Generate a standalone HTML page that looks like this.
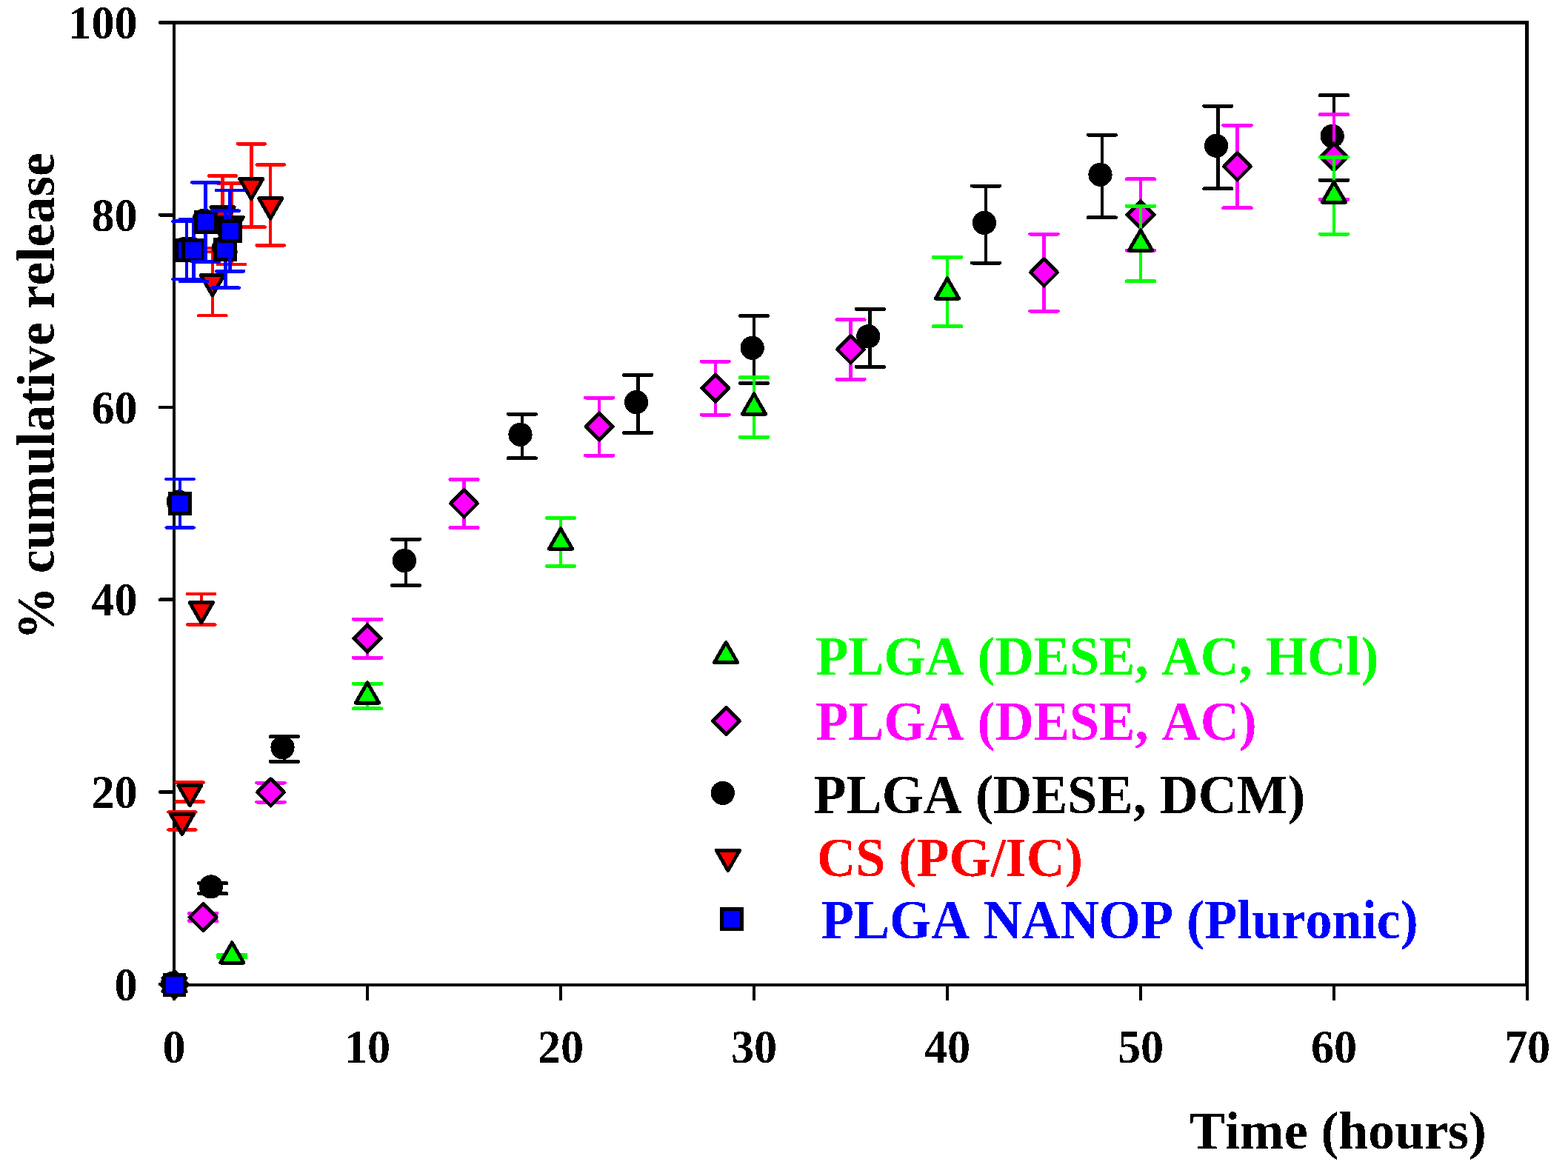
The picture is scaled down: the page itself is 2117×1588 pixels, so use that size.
<!DOCTYPE html>
<html lang="en"><head><meta charset="utf-8"><title>% cumulative release vs Time (hours)</title>
<style>html,body{margin:0;padding:0;background:#fff;}body{width:2117px;height:1588px;}svg{display:block;font-kerning:none;shape-rendering:crispEdges;}</style></head><body>
<svg width="2117" height="1588" viewBox="0 0 2117 1588" role="img" aria-label="Cumulative release versus time scatter plot">
<rect width="2117" height="1588" fill="#fff"/>
<defs><filter id="bw" x="-10%" y="-30%" width="120%" height="160%" color-interpolation-filters="sRGB"><feComponentTransfer><feFuncA type="discrete" tableValues="0 1"/></feComponentTransfer></filter></defs>
<g stroke="#000" fill="none" stroke-linecap="round">
<path stroke-width="4.9" stroke-linecap="butt" d="M232.9 30.5H2064.2"/>
<path stroke-width="4.4" stroke-linecap="butt" d="M232.9 1330.0H2064.2"/>
<path stroke-width="4.3" stroke-linecap="butt" d="M235.0 30.5V1330.0"/>
<path stroke-width="4.8" stroke-linecap="butt" d="M2061.8 30.5V1330.0"/>
<path stroke-width="4.7" d="M216.0 1329.2H235.0M216.0 1069.5H235.0M216.0 809.7H235.0M216.0 550H235.0M216.0 290.2H235.0M216.0 30.5H235.0"/>
<path stroke-width="4.6" d="M235 1330.0V1349.0M496 1330.0V1349.0M757 1330.0V1349.0M1018 1330.0V1349.0M1279 1330.0V1349.0M1540 1330.0V1349.0M1801 1330.0V1349.0M2061.8 1330.0V1349.0"/>
</g>
<g font-family="Liberation Serif, serif" font-weight="bold" font-size="62.2" fill="#000">
<text filter="url(#bw)" transform="translate(185.6 1350.7) scale(1 1.015)" text-anchor="end">0</text>
<text filter="url(#bw)" transform="translate(185.6 1091) scale(1 1.015)" text-anchor="end">20</text>
<text filter="url(#bw)" transform="translate(185.6 831.2) scale(1 1.015)" text-anchor="end">40</text>
<text filter="url(#bw)" transform="translate(185.6 571.5) scale(1 1.015)" text-anchor="end">60</text>
<text filter="url(#bw)" transform="translate(185.6 311.7) scale(1 1.015)" text-anchor="end">80</text>
<text filter="url(#bw)" transform="translate(185.6 52) scale(1 1.015)" text-anchor="end">100</text>
<text filter="url(#bw)" transform="translate(235 1434.6) scale(1 1.015)" text-anchor="middle">0</text>
<text filter="url(#bw)" transform="translate(496 1434.6) scale(1 1.015)" text-anchor="middle">10</text>
<text filter="url(#bw)" transform="translate(757 1434.6) scale(1 1.015)" text-anchor="middle">20</text>
<text filter="url(#bw)" transform="translate(1018 1434.6) scale(1 1.015)" text-anchor="middle">30</text>
<text filter="url(#bw)" transform="translate(1279 1434.6) scale(1 1.015)" text-anchor="middle">40</text>
<text filter="url(#bw)" transform="translate(1540 1434.6) scale(1 1.015)" text-anchor="middle">50</text>
<text filter="url(#bw)" transform="translate(1801 1434.6) scale(1 1.015)" text-anchor="middle">60</text>
<text filter="url(#bw)" transform="translate(2062 1434.6) scale(1 1.015)" text-anchor="middle">70</text>
</g>
<text filter="url(#bw)" font-family="Liberation Serif, serif" font-weight="bold" font-size="71.8" x="1606" y="1551.2">Time (hours)</text>
<text filter="url(#bw)" font-family="Liberation Serif, serif" font-weight="bold" font-size="71.8" transform="translate(72.5 535) rotate(-90)" text-anchor="middle">% cumulative release</text>
<g fill="none">
<path stroke-width="4.5" d="M287.2 1192.7V1206.6" stroke="#000000"/><path stroke-width="5.0" stroke-linecap="round" d="M268.6 1192.7H305.8M268.6 1206.6H305.8" stroke="#000000"/>
<path stroke-width="4.5" d="M383.8 994.6V1028.4" stroke="#000000"/><path stroke-width="5.0" stroke-linecap="round" d="M365.2 994.6H402.4M365.2 1028.4H402.4" stroke="#000000"/>
<path stroke-width="4.5" d="M548.2 728.1V790.5" stroke="#000000"/><path stroke-width="5.0" stroke-linecap="round" d="M529.6 728.1H566.8M529.6 790.5H566.8" stroke="#000000"/>
<path stroke-width="4.5" d="M704.8 559.1V618.9" stroke="#000000"/><path stroke-width="5.0" stroke-linecap="round" d="M686.2 559.1H723.4M686.2 618.9H723.4" stroke="#000000"/>
<path stroke-width="4.5" d="M861.4 506.4V584.4" stroke="#000000"/><path stroke-width="5.0" stroke-linecap="round" d="M842.8 506.4H880M842.8 584.4H880" stroke="#000000"/>
<path stroke-width="4.5" d="M1018 426.5V517.5" stroke="#000000"/><path stroke-width="5.0" stroke-linecap="round" d="M999.4 426.5H1036.6M999.4 517.5H1036.6" stroke="#000000"/>
<path stroke-width="4.5" d="M1174.6 417.4V495.4" stroke="#000000"/><path stroke-width="5.0" stroke-linecap="round" d="M1156 417.4H1193.2M1156 495.4H1193.2" stroke="#000000"/>
<path stroke-width="4.5" d="M1331.2 251V355" stroke="#000000"/><path stroke-width="5.0" stroke-linecap="round" d="M1312.6 251H1349.8M1312.6 355H1349.8" stroke="#000000"/>
<path stroke-width="4.5" d="M1487.8 182.1V293.9" stroke="#000000"/><path stroke-width="5.0" stroke-linecap="round" d="M1469.2 182.1H1506.4M1469.2 293.9H1506.4" stroke="#000000"/>
<path stroke-width="4.5" d="M1644.4 143.1V254.9" stroke="#000000"/><path stroke-width="5.0" stroke-linecap="round" d="M1625.8 143.1H1663M1625.8 254.9H1663" stroke="#000000"/>
<path stroke-width="4.5" d="M1801 128.8V243.2" stroke="#000000"/><path stroke-width="5.0" stroke-linecap="round" d="M1782.4 128.8H1819.6M1782.4 243.2H1819.6" stroke="#000000"/>
</g>
<g stroke="#000" stroke-width="4.8" stroke-linejoin="round">
<circle cx="233.2" cy="1327.7" r="16.1" fill="#000000" stroke="none"/>
<circle cx="284.9" cy="1197.4" r="16.1" fill="#000000" stroke="none"/>
<circle cx="381.5" cy="1009.3" r="16.1" fill="#000000" stroke="none"/>
<circle cx="545.9" cy="757.1" r="16.1" fill="#000000" stroke="none"/>
<circle cx="702.5" cy="586.8" r="16.1" fill="#000000" stroke="none"/>
<circle cx="859.1" cy="543.2" r="16.1" fill="#000000" stroke="none"/>
<circle cx="1015.7" cy="469.8" r="16.1" fill="#000000" stroke="none"/>
<circle cx="1172.3" cy="454.2" r="16.1" fill="#000000" stroke="none"/>
<circle cx="1328.9" cy="300.8" r="16.1" fill="#000000" stroke="none"/>
<circle cx="1485.5" cy="235.8" r="16.1" fill="#000000" stroke="none"/>
<circle cx="1642.1" cy="196.8" r="16.1" fill="#000000" stroke="none"/>
<circle cx="1798.7" cy="183.8" r="16.1" fill="#000000" stroke="none"/>
</g>
<g fill="none">
<path stroke-width="4.5" d="M274.1 1233.2V1243.8" stroke="#ff00ff"/><path stroke-width="5.0" stroke-linecap="round" d="M255.5 1233.2H292.8M255.5 1243.8H292.8" stroke="#ff00ff"/>
<path stroke-width="4.5" d="M365.5 1057V1083" stroke="#ff00ff"/><path stroke-width="5.0" stroke-linecap="round" d="M346.9 1057H384.1M346.9 1083H384.1" stroke="#ff00ff"/>
<path stroke-width="4.5" d="M496 836V888" stroke="#ff00ff"/><path stroke-width="5.0" stroke-linecap="round" d="M477.4 836H514.6M477.4 888H514.6" stroke="#ff00ff"/>
<path stroke-width="4.5" d="M626.5 647.5V712.5" stroke="#ff00ff"/><path stroke-width="5.0" stroke-linecap="round" d="M607.9 647.5H645.1M607.9 712.5H645.1" stroke="#ff00ff"/>
<path stroke-width="4.5" d="M809.2 537V615" stroke="#ff00ff"/><path stroke-width="5.0" stroke-linecap="round" d="M790.6 537H827.8M790.6 615H827.8" stroke="#ff00ff"/>
<path stroke-width="4.5" d="M965.8 488V560" stroke="#ff00ff"/><path stroke-width="5.0" stroke-linecap="round" d="M947.2 488H984.4M947.2 560H984.4" stroke="#ff00ff"/>
<path stroke-width="4.5" d="M1148.5 431.7V512.3" stroke="#ff00ff"/><path stroke-width="5.0" stroke-linecap="round" d="M1129.9 431.7H1167.1M1129.9 512.3H1167.1" stroke="#ff00ff"/>
<path stroke-width="4.5" d="M1409.5 316V420" stroke="#ff00ff"/><path stroke-width="5.0" stroke-linecap="round" d="M1390.9 316H1428.1M1390.9 420H1428.1" stroke="#ff00ff"/>
<path stroke-width="4.5" d="M1540 241.9V338.1" stroke="#ff00ff"/><path stroke-width="5.0" stroke-linecap="round" d="M1521.4 241.9H1558.6M1521.4 338.1H1558.6" stroke="#ff00ff"/>
<path stroke-width="4.5" d="M1670.5 169.1V280.9" stroke="#ff00ff"/><path stroke-width="5.0" stroke-linecap="round" d="M1651.9 169.1H1689.1M1651.9 280.9H1689.1" stroke="#ff00ff"/>
<path stroke-width="4.5" d="M1801 154.8V269.2" stroke="#ff00ff"/><path stroke-width="5.0" stroke-linecap="round" d="M1782.4 154.8H1819.6M1782.4 269.2H1819.6" stroke="#ff00ff"/>
</g>
<g stroke="#000" stroke-width="4.8" stroke-linejoin="round">
<path d="M235.5 1311.8L253.6 1329.9L235.5 1348L217.4 1329.9Z" fill="#ff00ff"/>
<path d="M274.1 1220.4L292.2 1238.5L274.1 1256.6L256 1238.5Z" fill="#ff00ff"/>
<path d="M365.5 1051.9L383.6 1070L365.5 1088.1L347.4 1070Z" fill="#ff00ff"/>
<path d="M496 843.9L514.1 862L496 880.1L477.9 862Z" fill="#ff00ff"/>
<path d="M626.5 661.9L644.6 680L626.5 698.1L608.4 680Z" fill="#ff00ff"/>
<path d="M809.2 557.9L827.3 576L809.2 594.1L791.1 576Z" fill="#ff00ff"/>
<path d="M965.8 505.9L983.9 524L965.8 542.1L947.7 524Z" fill="#ff00ff"/>
<path d="M1148.5 453.9L1166.6 472L1148.5 490.1L1130.4 472Z" fill="#ff00ff"/>
<path d="M1409.5 349.9L1427.6 368L1409.5 386.1L1391.4 368Z" fill="#ff00ff"/>
<path d="M1540 271.9L1558.1 290L1540 308.1L1521.9 290Z" fill="#ff00ff"/>
<path d="M1670.5 206.9L1688.6 225L1670.5 243.1L1652.4 225Z" fill="#ff00ff"/>
<path d="M1801 193.9L1819.1 212L1801 230.1L1782.9 212Z" fill="#ff00ff"/>
</g>
<g fill="none">
<path stroke-width="4.5" d="M313.3 1289.2V1292.8" stroke="#00ff00"/><path stroke-width="5.0" stroke-linecap="round" d="M294.7 1289.2H331.9M294.7 1292.8H331.9" stroke="#00ff00"/>
<path stroke-width="4.5" d="M496 923.1V956.9" stroke="#00ff00"/><path stroke-width="5.0" stroke-linecap="round" d="M477.4 923.1H514.6M477.4 956.9H514.6" stroke="#00ff00"/>
<path stroke-width="4.5" d="M757 699.5V764.5" stroke="#00ff00"/><path stroke-width="5.0" stroke-linecap="round" d="M738.4 699.5H775.6M738.4 764.5H775.6" stroke="#00ff00"/>
<path stroke-width="4.5" d="M1018 509.7V590.3" stroke="#00ff00"/><path stroke-width="5.0" stroke-linecap="round" d="M999.4 509.7H1036.6M999.4 590.3H1036.6" stroke="#00ff00"/>
<path stroke-width="4.5" d="M1279 347.2V440.8" stroke="#00ff00"/><path stroke-width="5.0" stroke-linecap="round" d="M1260.4 347.2H1297.6M1260.4 440.8H1297.6" stroke="#00ff00"/>
<path stroke-width="4.5" d="M1540 278.3V379.7" stroke="#00ff00"/><path stroke-width="5.0" stroke-linecap="round" d="M1521.4 278.3H1558.6M1521.4 379.7H1558.6" stroke="#00ff00"/>
<path stroke-width="4.5" d="M1801 212V316" stroke="#00ff00"/><path stroke-width="5.0" stroke-linecap="round" d="M1782.4 212H1819.6M1782.4 316H1819.6" stroke="#00ff00"/>
</g>
<g stroke="#000" stroke-width="4.8" stroke-linejoin="round">
<path d="M235.5 1311.7L251.2 1339L219.8 1339Z" fill="#00ff00"/>
<path d="M313.3 1272.8L329 1300.1L297.6 1300.1Z" fill="#00ff00"/>
<path d="M496 921.8L511.7 949.1L480.3 949.1Z" fill="#00ff00"/>
<path d="M757 713.8L772.7 741.1L741.3 741.1Z" fill="#00ff00"/>
<path d="M1018 531.8L1033.7 559.1L1002.3 559.1Z" fill="#00ff00"/>
<path d="M1279 375.8L1294.7 403.1L1263.3 403.1Z" fill="#00ff00"/>
<path d="M1540 310.8L1555.7 338.1L1524.3 338.1Z" fill="#00ff00"/>
<path d="M1801 245.8L1816.7 273.1L1785.3 273.1Z" fill="#00ff00"/>
</g>
<g fill="none">
<path stroke-width="4.5" d="M245.9 1096.5V1120.5" stroke="#ff0000"/><path stroke-width="4.5" stroke-linecap="round" d="M227.3 1096.5H264.5M227.3 1120.5H264.5" stroke="#ff0000"/>
<path stroke-width="4.5" d="M256.3 1056.6V1082.6" stroke="#ff0000"/><path stroke-width="4.5" stroke-linecap="round" d="M237.7 1056.6H274.9M237.7 1082.6H274.9" stroke="#ff0000"/>
<path stroke-width="4.5" d="M271.8 802V843.4" stroke="#ff0000"/><path stroke-width="4.5" stroke-linecap="round" d="M253.2 802H290.4M253.2 843.4H290.4" stroke="#ff0000"/>
<path stroke-width="4.5" d="M286.8 335.2V426.2" stroke="#ff0000"/><path stroke-width="4.5" stroke-linecap="round" d="M268.2 335.2H305.4M268.2 426.2H305.4" stroke="#ff0000"/>
<path stroke-width="4.5" d="M300.5 237.5V340.2" stroke="#ff0000"/><path stroke-width="4.5" stroke-linecap="round" d="M281.9 237.5H319.1M281.9 340.2H319.1" stroke="#ff0000"/>
<path stroke-width="4.5" d="M312.7 247.6V356.9" stroke="#ff0000"/><path stroke-width="4.5" stroke-linecap="round" d="M294.1 247.6H331.3M294.1 356.9H331.3" stroke="#ff0000"/>
<path stroke-width="4.5" d="M339.3 194.3V306.7" stroke="#ff0000"/><path stroke-width="4.5" stroke-linecap="round" d="M320.7 194.3H357.9M320.7 306.7H357.9" stroke="#ff0000"/>
<path stroke-width="4.5" d="M365.2 222.4V331.3" stroke="#ff0000"/><path stroke-width="4.5" stroke-linecap="round" d="M346.6 222.4H383.8M346.6 331.3H383.8" stroke="#ff0000"/>
</g>
<g stroke="#000" stroke-width="4.8" stroke-linejoin="round">
<path d="M235.5 1348.1L251.2 1320.8L219.8 1320.8Z" fill="#ff0000"/>
<path d="M245.9 1126.7L261.6 1099.4L230.2 1099.4Z" fill="#ff0000"/>
<path d="M256.3 1087.8L272 1060.5L240.6 1060.5Z" fill="#ff0000"/>
<path d="M271.8 840.9L287.5 813.6L256.1 813.6Z" fill="#ff0000"/>
<path d="M286.8 398.9L302.5 371.6L271.1 371.6Z" fill="#ff0000"/>
<path d="M300.5 307.1L316.2 279.8L284.8 279.8Z" fill="#ff0000"/>
<path d="M312.7 320.4L328.4 293.1L297 293.1Z" fill="#ff0000"/>
<path d="M339.3 268.7L355 241.4L323.6 241.4Z" fill="#ff0000"/>
<path d="M365.2 295.1L380.9 267.8L349.5 267.8Z" fill="#ff0000"/>
</g>
<g><circle cx="233.2" cy="1327.7" r="16.1" fill="#000000" stroke="none"/><circle cx="240.8" cy="677.5" r="16.1" fill="#000000" stroke="none"/><circle cx="249.7" cy="335.8" r="16.1" fill="#000000" stroke="none"/><circle cx="259.1" cy="335.8" r="16.1" fill="#000000" stroke="none"/><circle cx="275.3" cy="297.7" r="16.1" fill="#000000" stroke="none"/><circle cx="302.1" cy="334.4" r="16.1" fill="#000000" stroke="none"/><circle cx="308.3" cy="309.4" r="16.1" fill="#000000" stroke="none"/></g>
<g fill="none">
<g stroke="#000" stroke-width="4.8" stroke-linejoin="round"><rect x="221.9" y="1316.4" width="27.1" height="27.1" fill="#0000ff" stroke-linejoin="miter"/></g>
<path stroke-width="4.5" d="M243.1 647V712.5" stroke="#0000ff"/><path stroke-width="4.5" stroke-linecap="round" d="M224.5 647H261.7M224.5 712.5H261.7" stroke="#0000ff"/>
<g stroke="#000" stroke-width="4.8" stroke-linejoin="round"><rect x="229.5" y="666.2" width="27.1" height="27.1" fill="#0000ff" stroke-linejoin="miter"/></g>
<path stroke-width="4.5" d="M252 298.7V377.2" stroke="#0000ff"/><path stroke-width="4.5" stroke-linecap="round" d="M233.4 298.7H270.6M233.4 377.2H270.6" stroke="#0000ff"/>
<g stroke="#000" stroke-width="4.8" stroke-linejoin="round"><rect x="238.4" y="324.4" width="27.1" height="27.1" fill="#0000ff" stroke-linejoin="miter"/></g>
<path stroke-width="4.5" d="M261.4 296.1V379.8" stroke="#0000ff"/><path stroke-width="4.5" stroke-linecap="round" d="M242.8 296.1H280M242.8 379.8H280" stroke="#0000ff"/>
<g stroke="#000" stroke-width="4.8" stroke-linejoin="round"><rect x="247.8" y="324.4" width="27.1" height="27.1" fill="#0000ff" stroke-linejoin="miter"/></g>
<path stroke-width="4.5" d="M277.6 246.4V353.4" stroke="#0000ff"/><path stroke-width="4.5" stroke-linecap="round" d="M259 246.4H296.2M259 353.4H296.2" stroke="#0000ff"/>
<g stroke="#000" stroke-width="4.8" stroke-linejoin="round"><rect x="264.1" y="286.3" width="27.1" height="27.1" fill="#0000ff" stroke-linejoin="miter"/></g>
<path stroke-width="4.5" d="M304.4 284.6V388.7" stroke="#0000ff"/><path stroke-width="4.5" stroke-linecap="round" d="M285.8 284.6H323M285.8 388.7H323" stroke="#0000ff"/>
<g stroke="#000" stroke-width="4.8" stroke-linejoin="round"><rect x="290.8" y="323.1" width="27.1" height="27.1" fill="#0000ff" stroke-linejoin="miter"/></g>
<path stroke-width="4.5" d="M310.6 256.9V366.3" stroke="#0000ff"/><path stroke-width="4.5" stroke-linecap="round" d="M292 256.9H329.2M292 366.3H329.2" stroke="#0000ff"/>
<g stroke="#000" stroke-width="4.8" stroke-linejoin="round"><rect x="297.1" y="298.6" width="27.1" height="27.1" fill="#0000ff" stroke-linejoin="miter"/></g>
</g>
<g stroke="#000" stroke-width="4.8" stroke-linejoin="round">
<path d="M980.1 867.3L995.8 894.6L964.4 894.6Z" fill="#00ff00"/>
<path d="M980.4 955.5L998.5 973.6L980.4 991.7L962.3 973.6Z" fill="#ff00ff"/>
<circle cx="975.8" cy="1070.9" r="16.1" fill="#000000" stroke="none"/>
<path d="M982.9 1175.6L998.6 1148.3L967.2 1148.3Z" fill="#ff0000"/>
<rect x="974.5" y="1227.5" width="27.1" height="27.1" fill="#0000ff" stroke-linejoin="miter"/>
</g>
<g font-family="Liberation Serif, serif" font-weight="bold" font-size="72.2">
<text filter="url(#bw)" transform="translate(1101.2 911.4) scale(1 1.035)" fill="#00ff00">PLGA (DESE, AC, HCl)</text>
<text filter="url(#bw)" transform="translate(1101.2 999.0) scale(1 1.035)" fill="#ff00ff">PLGA (DESE, AC)</text>
<text filter="url(#bw)" transform="translate(1098.4 1097.8) scale(1 1.035)" fill="#000000">PLGA (DESE, DCM)</text>
<text filter="url(#bw)" transform="translate(1103.0 1183.1) scale(1 1.035)" fill="#ff0000">CS (PG/IC)</text>
<text filter="url(#bw)" transform="translate(1108.8 1267.1) scale(1 1.035)" fill="#0000ff">PLGA NANOP (Pluronic)</text>
</g>
</svg></body></html>
